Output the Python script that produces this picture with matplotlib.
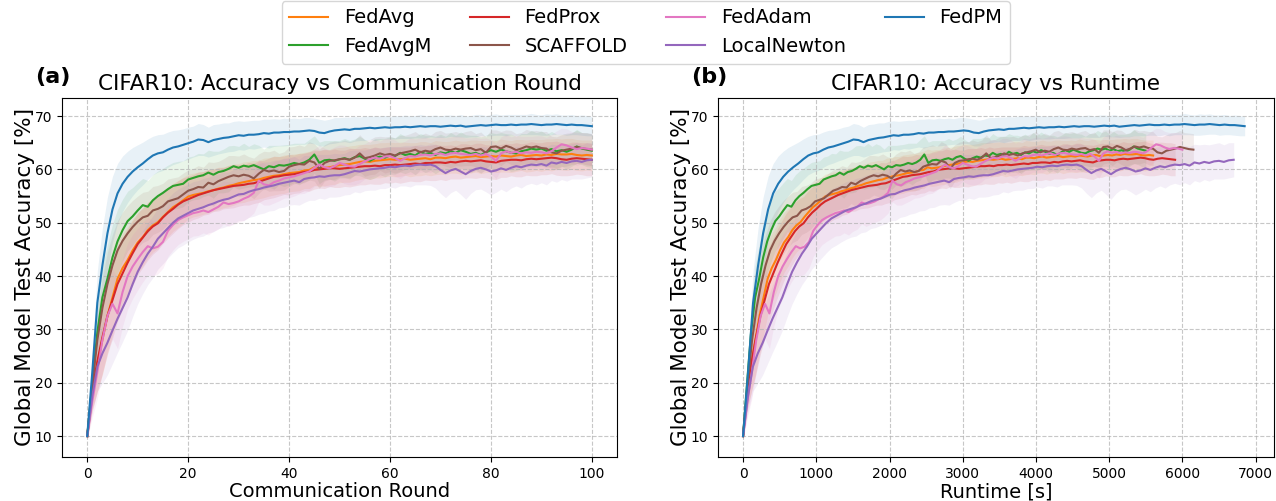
import numpy as np
import matplotlib
matplotlib.use('Agg')
import matplotlib.pyplot as plt

# method names in legend order, colours from tab10
methods = ['FedAvg', 'FedAvgM', 'FedProx', 'SCAFFOLD', 'FedAdam', 'LocalNewton', 'FedPM']
colors = ['tab:orange', 'tab:green', 'tab:red', 'tab:brown', 'tab:pink', 'tab:purple', 'tab:blue']

rounds = list(range(101))

sec_per_round = [56.0, 55.0, 59.0, 61.5, 60.0, 67.0, 68.5]

# mean test accuracy [%] per round
acc_fedavg = [10, 18, 23.5, 28, 32.5, 36, 39.5, 41.5, 43, 44.8, 46.3, 47.3, 48.6, 49.5, 50.1, 51.1, 52, 52.9, 53.5, 54.2, 54.9,
              55.2, 55.4, 55.6, 55.9, 56.1, 56.4, 56.6, 56.9, 57.1, 57.4, 57.6, 57.8, 58.0, 58.1, 58.4, 58.6, 58.8, 58.9, 59.1, 59.3,
              59.4, 59.5, 59.8, 59.9, 60.4, 60.2, 60.3, 60.4, 60.6, 60.8, 60.9, 61.0, 61.2, 61.4, 61.5, 61.4, 61.6, 61.7, 61.8, 61.9,
              61.8, 61.9, 62.0, 61.8, 61.9, 62.0, 62.1, 61.9, 62.2, 62.2, 62.1, 62.3, 62.4, 62.2, 62.3, 62.4, 62.5, 62.3, 62.4, 62.5,
              62.4, 62.6, 62.5, 62.4, 62.6, 62.7, 62.5, 62.6, 62.7, 62.6, 62.8, 62.7, 62.9, 62.8, 62.8, 62.9, 62.7, 62.6, 62.7, 62.6]
acc_fedavgm = [10, 20, 29.5, 36, 39.5, 43.5, 46.5, 48.6, 50.3, 51.2, 52.3, 53.3, 53.0, 54.2, 55.0, 55.6, 56.3, 56.9, 57.1, 57.3, 58.1,
               58.4, 58.7, 58.9, 59.4, 59.0, 59.5, 59.7, 60.1, 60.6, 60.3, 60.7, 60.5, 60.8, 60.4, 60.0, 60.6, 60.4, 60.8, 60.7, 60.9,
               61.2, 61.0, 61.3, 61.8, 62.8, 61.2, 61.7, 61.8, 61.6, 61.9, 62.1, 61.8, 62.3, 62.5, 62.0, 61.6, 62.1, 62.4, 62.2, 62.6,
               62.5, 63.1, 62.7, 62.9, 62.6, 63.3, 62.9, 63.1, 62.7, 63.2, 63.0, 63.4, 63.1, 63.6, 63.3, 62.9, 63.1, 62.7, 63.2, 63.6,
               63.3, 63.7, 63.4, 63.1, 63.0, 63.4, 63.6, 63.9, 63.7, 63.9, 63.5, 63.8, 63.4, 63.6, 63.3, 63.7, 64.3, 63.9, 63.7, 63.5]
acc_fedprox = [10, 18.5, 24, 28.5, 32.5, 35.5, 38.5, 40.5, 42.5, 44.3, 46, 47.2, 48.4, 49.3, 49.9, 51, 51.9, 52.6, 53.4, 54, 54.4,
               54.8, 55.2, 55.5, 55.8, 56.1, 56.3, 56.5, 56.7, 56.9, 57.0, 57.1, 57.3, 57.4, 57.7, 58.0, 58.3, 58.6, 58.7, 58.9, 59.0,
               59.1, 59.3, 59.5, 59.6, 59.9, 60.0, 60.1, 60.2, 60.2, 60.1, 60.2, 60.3, 60.4, 60.5, 60.6, 60.6, 60.7, 60.6, 60.8, 60.8,
               60.9, 60.8, 60.9, 61.0, 61.1, 61.0, 61.2, 61.2, 61.3, 61.3, 61.2, 61.4, 61.3, 61.5, 61.6, 61.5, 61.6, 61.7, 61.5, 61.4,
               61.3, 61.6, 61.7, 61.8, 61.8, 61.7, 61.9, 62.0, 61.9, 62.0, 62.1, 62.2, 62.1, 61.9, 61.8, 62.0, 62.1, 62.0, 61.9, 61.8]
acc_scaffold = [10, 19.5, 28, 34, 38.5, 42, 44.8, 46.6, 48, 49.2, 50.2, 51, 51.3, 52.3, 52.6, 53.1, 54, 54.3, 54.6, 55.3, 56,
                56.3, 56.7, 56.6, 57.5, 57.2, 57.8, 58.2, 58.6, 58.9, 58.7, 59.0, 58.8, 58.3, 59.2, 59.9, 59.6, 59.8, 59.5, 59.7, 60.5,
                60.8, 61.0, 60.9, 61.6, 61.3, 60.1, 61.2, 61.6, 61.7, 61.9, 62.0, 61.8, 62.2, 63.0, 62.1, 62.3, 62.6, 63.0, 62.7, 62.9,
                62.6, 63.0, 63.2, 63.4, 63.7, 63.2, 63.5, 63.3, 63.8, 64.1, 63.7, 63.6, 63.9, 63.7, 63.9, 64.0, 63.6, 63.8, 63.1, 64.2,
                64.3, 63.9, 64.4, 64.1, 63.6, 63.9, 64.3, 64.1, 64.3, 64.0, 63.9, 63.2, 63.0, 63.5, 63.7, 63.9, 64.2, 64.0, 63.8, 63.7]
acc_fedadam = [10, 16.5, 22, 28, 32.5, 34.8, 33, 37, 40, 41.8, 43.2, 44.5, 45.6, 45.2, 45.5, 46.4, 48.5, 49.6, 50.5, 51, 51.4,
               51.8, 52.0, 52.3, 52.0, 52.5, 53.0, 53.8, 53.5, 53.7, 54.0, 54.5, 54.9, 55.6, 57.9, 57.2, 57.0, 57.6, 57.9, 58.3, 58.5,
               58.7, 59.0, 59.3, 59.6, 60.3, 60.9, 60.4, 60.2, 60.6, 61.2, 60.9, 60.6, 60.5, 61.0, 61.5, 61.9, 62.2, 62.0, 62.4, 62.5,
               62.1, 61.6, 62.1, 62.5, 62.4, 62.7, 62.8, 62.6, 62.9, 63.0, 62.7, 63.0, 63.1, 62.9, 62.8, 62.7, 62.9, 62.6, 62.9, 62.4,
               61.6, 63.0, 63.4, 63.1, 63.3, 63.0, 63.2, 63.1, 63.3, 63.2, 63.0, 63.4, 64.1, 64.7, 64.5, 64.1, 63.8, 64.0, 63.9, 63.7]
acc_localnewton = [10, 17.5, 23, 25.5, 27.5, 29.8, 32, 34, 36, 38.5, 40.8, 42.6, 44.2, 45.5, 47, 48, 49, 50, 50.8, 51.3, 51.8,
                   52.3, 52.6, 52.9, 53.3, 53.6, 54.0, 54.3, 54.5, 54.9, 55.3, 55.4, 55.8, 56.1, 56.3, 56.6, 56.8, 57.0, 57.3, 57.5, 57.7,
                   57.9, 57.6, 58.2, 58.4, 58.5, 58.7, 58.6, 58.8, 58.9, 58.9, 59.1, 59.4, 59.7, 59.6, 59.8, 60.0, 60.1, 60.2, 60.3, 60.5,
                   60.4, 60.6, 60.7, 60.6, 60.8, 60.9, 60.8, 60.9, 60.6, 59.9, 59.3, 59.8, 60.1, 59.6, 59.1, 59.7, 60.1, 60.3, 60.0, 59.6,
                   59.8, 60.2, 59.9, 60.3, 60.6, 60.4, 60.7, 60.9, 60.8, 61.0, 60.7, 61.3, 61.1, 61.4, 61.2, 61.5, 61.6, 61.4, 61.7, 61.8]
acc_fedpm = [10, 22, 35, 42, 48, 52.5, 55.5, 57.3, 58.6, 59.6, 60.4, 61.1, 61.9, 62.6, 63.0, 63.2, 63.7, 64.1, 64.3, 64.6, 64.9,
             65.2, 65.6, 65.5, 65.1, 65.5, 65.7, 65.9, 66.0, 66.2, 66.4, 66.3, 66.5, 66.5, 66.6, 66.8, 66.7, 66.9, 66.9, 67.0, 67.0,
             67.1, 67.1, 67.2, 67.3, 67.2, 66.9, 66.8, 67.1, 67.3, 67.4, 67.5, 67.4, 67.6, 67.6, 67.7, 67.8, 67.7, 67.8, 67.9, 67.8,
             67.9, 67.9, 68.0, 67.9, 68.0, 68.1, 68.0, 68.1, 68.1, 68.0, 68.1, 68.2, 68.1, 68.2, 68.0, 68.1, 68.2, 68.3, 68.2, 68.3,
             68.4, 68.3, 68.3, 68.4, 68.3, 68.4, 68.4, 68.5, 68.4, 68.3, 68.4, 68.4, 68.5, 68.4, 68.3, 68.4, 68.3, 68.3, 68.2, 68.1]

# std over seeds [%] per round (shaded bands)
std_fedavg = [0.6, 3.2, 5.2, 6.5, 7.0, 7.0, 6.8, 6.5, 6.2, 5.9, 5.6, 5.4, 5.2, 5.0, 4.9, 4.7, 4.6, 4.5, 4.4, 4.3, 4.2,
              4.1, 4.1, 4.0, 4.0, 3.9, 3.9, 3.8, 3.9, 3.8, 3.7, 3.8, 3.7, 3.7, 3.6, 3.7, 3.6, 3.6, 3.5, 3.6, 3.5,
              3.5, 3.5, 3.4, 3.5, 3.4, 3.4, 3.4, 3.3, 3.4, 3.3, 3.3, 3.4, 3.3, 3.3, 3.2, 3.3, 3.2, 3.3, 3.2, 3.2,
              3.2, 3.2, 3.1, 3.2, 3.1, 3.2, 3.1, 3.1, 3.2, 3.1, 3.1, 3.0, 3.1, 3.1, 3.0, 3.1, 3.0, 3.1, 3.0, 3.0,
              3.0, 3.1, 3.0, 3.0, 3.0, 2.9, 3.0, 3.0, 2.9, 3.0, 2.9, 3.0, 2.9, 2.9, 3.0, 2.9, 2.9, 2.9, 2.8, 2.9]
std_fedavgm = [0.6, 3.0, 5.0, 6.0, 6.3, 6.2, 6.0, 5.8, 5.6, 5.4, 5.2, 5.0, 4.9, 4.8, 4.7, 4.6, 4.5, 4.4, 4.4, 4.3, 4.2,
               4.1, 4.3, 4.0, 4.2, 4.4, 3.9, 4.1, 4.3, 3.9, 4.0, 4.2, 3.8, 4.0, 4.1, 3.8, 3.9, 4.1, 3.7, 3.9, 3.8,
               3.7, 3.9, 3.6, 3.8, 3.5, 3.9, 3.7, 3.6, 3.8, 3.5, 3.7, 3.6, 3.4, 3.7, 3.6, 3.5, 3.7, 3.4, 3.6, 3.5,
               3.4, 3.6, 3.5, 3.3, 3.6, 3.4, 3.5, 3.3, 3.5, 3.4, 3.2, 3.5, 3.3, 3.4, 3.2, 3.5, 3.3, 3.4, 3.2, 3.3,
               3.4, 3.2, 3.3, 3.5, 3.2, 3.3, 3.1, 3.4, 3.2, 3.3, 3.1, 3.3, 3.2, 3.0, 3.3, 3.1, 3.2, 3.0, 3.2, 3.1]
std_fedprox = [0.6, 3.4, 5.6, 6.8, 7.2, 7.2, 7.0, 6.7, 6.4, 6.1, 5.8, 5.6, 5.4, 5.2, 5.0, 4.9, 4.8, 4.6, 4.5, 4.4, 4.3,
               4.2, 4.3, 4.1, 4.2, 4.0, 4.1, 3.9, 4.0, 4.1, 3.9, 3.8, 4.0, 3.8, 3.9, 3.7, 3.8, 3.9, 3.7, 3.6, 3.8,
               3.6, 3.7, 3.5, 3.7, 3.6, 3.5, 3.7, 3.4, 3.6, 3.5, 3.4, 3.6, 3.5, 3.4, 3.5, 3.3, 3.5, 3.4, 3.3, 3.4,
               3.3, 3.4, 3.3, 3.2, 3.4, 3.3, 3.2, 3.3, 3.4, 3.2, 3.3, 3.2, 3.1, 3.3, 3.2, 3.1, 3.3, 3.2, 3.1, 3.2,
               3.2, 3.1, 3.2, 3.0, 3.2, 3.1, 3.0, 3.2, 3.1, 3.0, 3.1, 3.0, 3.2, 3.1, 3.0, 3.1, 3.0, 3.0, 3.1, 3.0]
std_scaffold = [0.6, 3.0, 4.8, 5.8, 6.0, 5.8, 5.6, 5.4, 5.2, 5.0, 4.8, 4.7, 4.6, 4.5, 4.4, 4.3, 4.2, 4.1, 4.0, 4.0, 3.9,
                3.9, 4.0, 3.8, 3.9, 4.1, 3.7, 3.8, 4.0, 3.7, 3.8, 3.9, 3.6, 3.8, 3.7, 3.5, 3.7, 3.8, 3.5, 3.6, 3.7,
                3.5, 3.6, 3.4, 3.6, 3.5, 3.7, 3.4, 3.5, 3.6, 3.3, 3.5, 3.4, 3.3, 3.5, 3.4, 3.3, 3.5, 3.2, 3.4, 3.3,
                3.3, 3.4, 3.2, 3.3, 3.4, 3.2, 3.3, 3.1, 3.3, 3.2, 3.1, 3.3, 3.2, 3.1, 3.2, 3.3, 3.1, 3.2, 3.0, 3.2,
                3.1, 3.2, 3.0, 3.2, 3.1, 3.0, 3.2, 3.1, 3.0, 3.1, 3.2, 3.0, 3.1, 3.0, 3.1, 3.0, 3.1, 2.9, 3.0, 3.0]
std_fedadam = [0.6, 3.0, 5.0, 6.0, 6.5, 6.6, 6.6, 6.4, 6.2, 6.0, 5.8, 5.6, 5.4, 5.2, 5.1, 4.9, 4.8, 4.7, 4.6, 4.5, 4.4,
               4.3, 4.4, 4.2, 4.3, 4.1, 4.2, 4.0, 4.2, 4.0, 3.9, 4.1, 3.9, 3.8, 4.0, 3.9, 3.7, 3.9, 3.8, 3.7, 3.8,
               3.7, 3.6, 3.8, 3.6, 3.5, 3.7, 3.6, 3.5, 3.6, 3.4, 3.6, 3.5, 3.4, 3.5, 3.3, 3.5, 3.4, 3.3, 3.4, 3.3,
               3.4, 3.3, 3.2, 3.4, 3.3, 3.2, 3.3, 3.2, 3.1, 3.3, 3.2, 3.1, 3.2, 3.3, 3.1, 3.2, 3.1, 3.2, 3.0, 3.2,
               3.3, 3.1, 3.2, 3.0, 3.1, 3.2, 3.0, 3.1, 3.0, 3.1, 3.0, 3.2, 3.1, 3.0, 3.1, 3.0, 3.1, 2.9, 3.0, 3.0]
std_localnewton = [0.6, 3.0, 4.6, 5.6, 6.0, 6.2, 6.3, 6.3, 6.2, 6.1, 6.0, 5.9, 5.8, 5.8, 5.7, 5.7, 5.6, 5.6, 5.5, 5.5, 5.4,
                   5.4, 5.3, 5.4, 5.2, 5.3, 5.1, 5.2, 5.0, 5.1, 4.9, 5.0, 4.8, 4.9, 4.7, 4.8, 4.6, 4.7, 4.5, 4.6, 4.4,
                   4.5, 4.3, 4.4, 4.2, 4.3, 4.1, 4.2, 4.0, 4.1, 4.0, 3.9, 4.1, 3.9, 4.0, 3.8, 3.9, 4.0, 3.8, 3.9, 3.8,
                   3.9, 3.7, 3.8, 3.9, 3.7, 3.8, 3.7, 3.9, 4.1, 4.4, 4.6, 4.2, 4.0, 4.3, 4.7, 4.2, 3.9, 4.0, 4.2, 4.4,
                   4.1, 3.9, 4.1, 3.8, 3.7, 3.9, 3.6, 3.5, 3.7, 3.5, 3.6, 3.4, 3.5, 3.3, 3.4, 3.3, 3.4, 3.2, 3.3, 3.2]
std_fedpm = [0.5, 3.5, 6.0, 7.0, 6.8, 6.2, 5.6, 5.2, 4.8, 4.5, 4.2, 4.0, 3.8, 3.6, 3.5, 3.4, 3.3, 3.2, 3.1, 3.0, 3.0,
             2.9, 3.0, 2.9, 2.8, 2.9, 2.8, 2.8, 2.7, 2.8, 2.7, 2.7, 2.6, 2.7, 2.6, 2.6, 2.7, 2.6, 2.5, 2.6, 2.5,
             2.5, 2.4, 2.5, 2.4, 2.4, 2.5, 2.4, 2.3, 2.4, 2.3, 2.3, 2.4, 2.3, 2.2, 2.3, 2.2, 2.3, 2.2, 2.2, 2.1,
             2.2, 2.1, 2.2, 2.1, 2.1, 2.2, 2.1, 2.0, 2.1, 2.0, 2.1, 2.0, 2.0, 2.1, 2.0, 2.0, 2.1, 2.0, 1.9, 2.0,
             2.0, 1.9, 2.0, 1.9, 2.0, 1.9, 1.9, 2.0, 1.9, 1.9, 2.0, 1.9, 1.9, 1.8, 1.9, 1.9, 1.8, 1.9, 1.9, 1.8]

accs = [acc_fedavg, acc_fedavgm, acc_fedprox, acc_scaffold, acc_fedadam, acc_localnewton, acc_fedpm]
stds = [std_fedavg, std_fedavgm, std_fedprox, std_scaffold, std_fedadam, std_localnewton, std_fedpm]


def plot_panel(ax, use_runtime=False):
    handles = []
    for i, name in enumerate(methods):
        mean = np.array(accs[i])
        std = np.array(stds[i])
        x = np.array(rounds, dtype=float)
        if use_runtime:
            x = x * sec_per_round[i]
        ax.fill_between(x, mean - std, mean + std, color=colors[i], alpha=0.1, linewidth=0)
        line, = ax.plot(x, mean, color=colors[i], linewidth=1.5, label=name)
        handles.append(line)
    ax.grid(True, linestyle='--', alpha=0.7)
    ax.set_ylim(6.1, 73.4)
    ax.set_yticks([10, 20, 30, 40, 50, 60, 70])
    ax.tick_params(labelsize=10)
    ax.set_ylabel('Global Model Test Accuracy [%]', fontsize=15.5, labelpad=0)
    return handles


fig = plt.figure(figsize=(12.76, 5.01), dpi=100)
ax1 = fig.add_axes([0.0486, 0.088, 0.435, 0.7166])
ax2 = fig.add_axes([0.5627, 0.088, 0.4357, 0.7166])

handles = plot_panel(ax1)
ax1.set_xlim(-5, 105)
ax1.set_xticks([0, 20, 40, 60, 80, 100])
ax1.set_xlabel('Communication Round', fontsize=14, labelpad=1)
ax1.set_title('CIFAR10: Accuracy vs Communication Round', fontsize=15.5)
ax1.text(-0.048, 1.03, '(a)', transform=ax1.transAxes, fontsize=16, fontweight='bold', ha='left', va='bottom')

plot_panel(ax2, use_runtime=True)
ax2.set_xlim(-342, 7250)
ax2.set_xticks([0, 1000, 2000, 3000, 4000, 5000, 6000, 7000])
ax2.set_xlabel('Runtime [s]', fontsize=14, labelpad=1)
ax2.set_title('CIFAR10: Accuracy vs Runtime', fontsize=15.5)
ax2.text(-0.048, 1.03, '(b)', transform=ax2.transAxes, fontsize=16, fontweight='bold', ha='left', va='bottom')

fig.legend(handles, methods, loc='upper center', bbox_to_anchor=(0.506, 1.018), ncol=4, fontsize=14)

plt.savefig('out.png', dpi=100)
